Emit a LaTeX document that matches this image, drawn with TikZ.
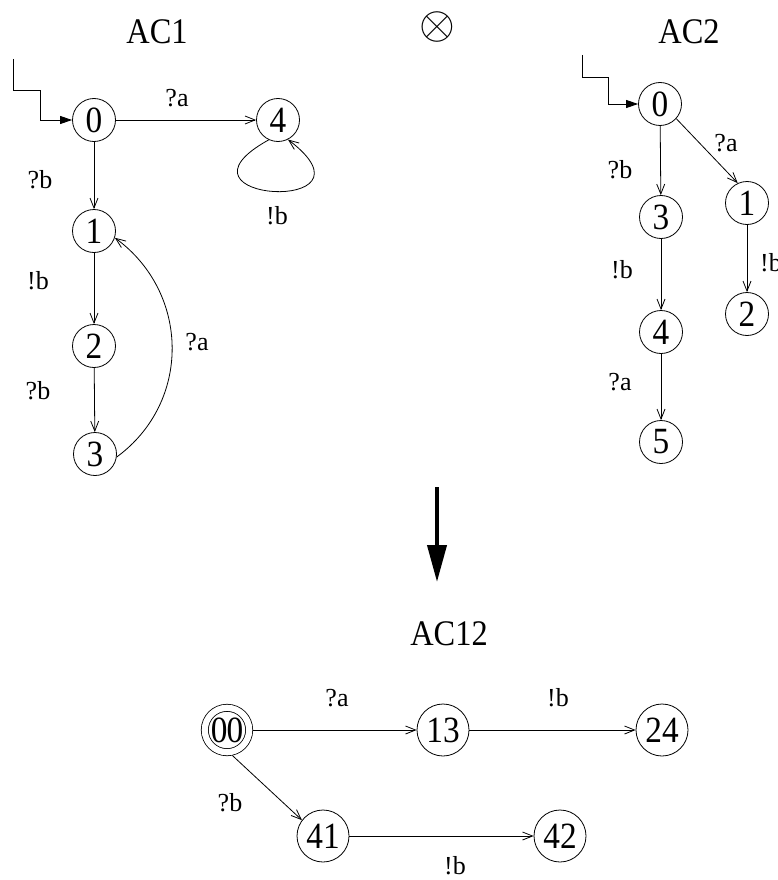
\documentclass[tikz,border=0pt]{standalone}
\usepackage{fix-cm}
\usepackage{fontspec}
\setmainfont{Liberation Serif}
\newfontfamily\statefont[FakeStretch=0.9]{Liberation Serif}
\usetikzlibrary{arrows.meta}
\tikzset{> = {Straight Barb[length=10pt,width=8pt]}, every picture/.style={line width=0.8pt}}

\begin{document}
\begin{tikzpicture}[x=1pt,y=-1pt]
\useasboundingbox (0,0) rectangle (778,880);

% headings
\begin{scope}[every node/.style={font=\statefont\fontsize{36}{36}\selectfont}]
\node (AC1) at (157,32) {AC1};
\node (AC2) at (689,32) {AC2};
\node (AC12) at (449,634) {AC12};
\node[inner sep=0pt] (prod) at (437,27) {\fontsize{46}{46}\selectfont$\otimes$};
\end{scope}

% states of AC1 and AC2
\begin{scope}[every node/.style={circle,draw,minimum size=43pt,inner sep=0pt,font=\statefont\fontsize{37}{37}\selectfont}]
\node (A0) at (94,120) {0};
\node (A4) at (278,120) {4};
\node (A1) at (94,231) {1};
\node (A2) at (94,346) {2};
\node (A3) at (95,454) {3};

\node (B0) at (660,104) {0};
\node (B3) at (661,217) {3};
\node (B1) at (747,203) {1};
\node (B4) at (661,332) {4};
\node (B2) at (747,314) {2};
\node (B5) at (661,442) {5};
\end{scope}

% states of the product
\begin{scope}[every node/.style={circle,draw,minimum size=52pt,inner sep=0pt,font=\statefont\fontsize{37}{37}\selectfont}]
\node[double,double distance=6.2pt,minimum size=44.4pt,outer sep=3.9pt] (C00) at (227,730) {0\kern-1pt0};
\node (C13) at (443,730) {13};
\node (C24) at (662,730) {24};
\node (C41) at (323,836) {41};
\node (C42) at (560,836) {42};
\end{scope}

% initial arrows
\coordinate (Ain) at (13,59);
\coordinate (Bin) at (582,55);
\draw [-{Triangle[length=12pt,width=8pt]}] (Ain) -- ++(0,31) -- ++(27,0) |- (A0);
\draw [-{Triangle[length=12pt,width=8pt]}] (Bin) -- ++(0,22) -- ++(26,0) |- (B0);

\begin{scope}[every edge/.style={draw}]
    \path [->] (A0) edge (A4);
    \path [->] (A0) edge (A1);
    \path [->] (A1) edge (A2);
    \path [->] (A2) edge (A3);
    \path [->] (B0) edge (B3);
    \path [->] (B0.-42) edge (B1.115);
    \path [->] (B3) edge (B4);
    \path [->] (B4) edge (B5);
    \path [->] (B1) edge (B2);
    \path [->] (C00) edge (C13);
    \path [->] (C13) edge (C24);
    \path [->] (C00.-78) edge (C41.143);
    \path [->] (C41) edge (C42);
\end{scope}
\draw [->] (A3.-8) .. controls +(75,-55) and +(75,55) .. (A1.-18);
\draw [->] (A4.-115) .. controls +(-112,62) and +(100,76) .. (A4.-63);

% transition labels
\begin{scope}[every node/.style={font=\fontsize{26}{26}\selectfont}]
\node (la04) at (177,98) {?a};
\node (la01) at (40,180) {?b};
\node (la44) at (277,216) {!b};
\node (la12) at (38,281) {!b};
\node (la23) at (38,391) {?b};
\node (la31) at (197,342) {?a};

\node (lb03) at (620,170) {?b};
\node (lb01) at (726,143) {?a};
\node (lb34) at (622,270) {!b};
\node (lb45) at (620,382) {?a};
\node (lb12) at (771,263) {!b};

\node (lc13) at (337,698) {?a};
\node (lc24) at (558,698) {!b};
\node (lc41) at (230,803) {?b};
\node (lc42) at (455,866) {!b};
\end{scope}

% product arrow
\coordinate (top) at (437,487);
\coordinate (bot) at (437,582);
\draw [line width=4pt,-{Triangle[length=37pt,width=19pt]}] (top) -- (bot);
\end{tikzpicture}
\end{document}
